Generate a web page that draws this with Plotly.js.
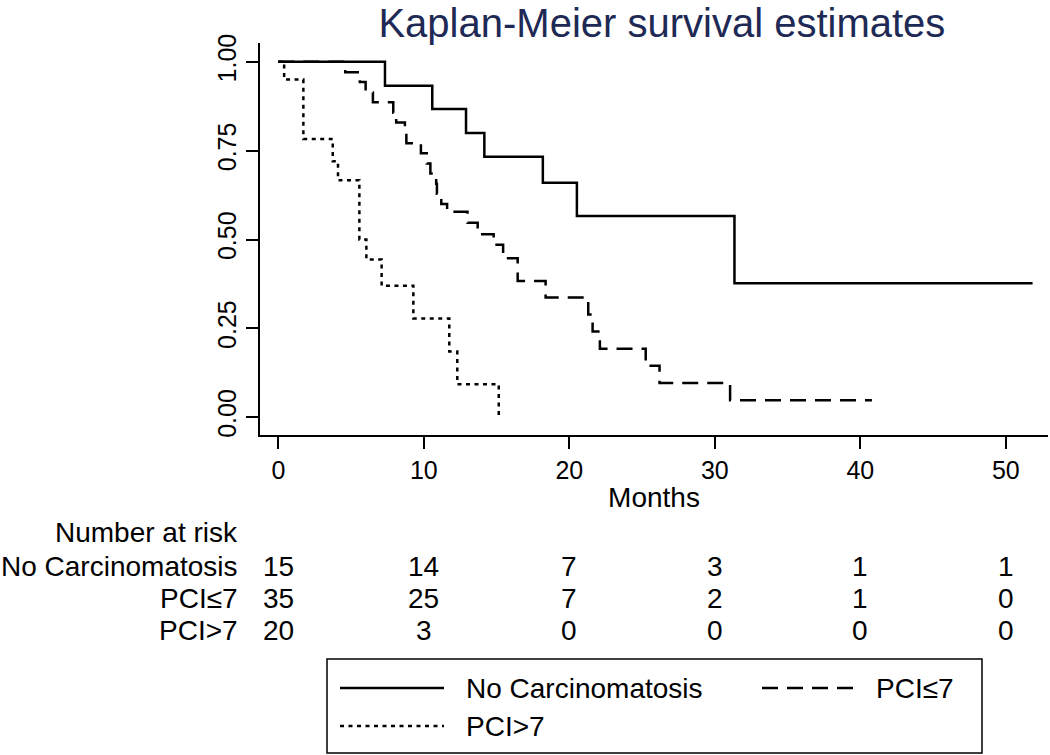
<!DOCTYPE html>
<html>
<head>
<meta charset="utf-8">
<script src="https://cdn.plot.ly/plotly-3.0.1.min.js"></script>
<style>html,body{margin:0;padding:0;background:#fff;}#chart{width:1050px;height:755px;}</style>
</head>
<body>
<div id="chart"></div>
<script>
// Kaplan-Meier step data (months, survival)
const noCarcTime = [0, 7.33, 10.58, 12.9, 14.16, 18.18, 20.52, 31.35, 51.84];
const noCarcSurv = [1, 0.933, 0.867, 0.8, 0.733, 0.66, 0.566, 0.377, 0.377];

const pciLowTime = [0, 4.6, 5.6, 6.0, 6.5, 7.9, 8.1, 8.7, 8.8, 9.8, 10.2, 10.45, 10.85, 10.9, 11.2, 11.6, 13.0, 13.7, 14.8, 15.45, 16.45, 18.37, 21.3, 21.6, 22.1, 25.25, 26.2, 31.05, 40.8];
const pciLowSurv = [1, 0.971, 0.943, 0.914, 0.886, 0.857, 0.829, 0.8, 0.771, 0.743, 0.714, 0.686, 0.657, 0.629, 0.6, 0.578, 0.547, 0.515, 0.485, 0.447, 0.383, 0.337, 0.289, 0.241, 0.193, 0.145, 0.0965, 0.048, 0.048];

const pciHighTime = [0, 0.4, 1.72, 3.74, 4.1, 5.57, 6.05, 7.1, 9.28, 11.75, 12.3, 15.15];
const pciHighSurv = [1, 0.95, 0.783, 0.72, 0.667, 0.5, 0.444, 0.37, 0.278, 0.185, 0.093, 0.0];

// Number at risk table
const riskTimes = [0, 10, 20, 30, 40, 50];
const groupNames = ["No Carcinomatosis", "PCI≤7", "PCI>7"];
const riskNoCarc = [15, 14, 7, 3, 1, 1];
const riskPciLow = [35, 25, 7, 2, 1, 0];
const riskPciHigh = [20, 3, 0, 0, 0, 0];

const xTicks = [0, 10, 20, 30, 40, 50];
const yTicks = [0, 0.25, 0.5, 0.75, 1];
const yTickText = ["0.00", "0.25", "0.50", "0.75", "1.00"];

const FONT = "Liberation Sans, Arial, Helvetica, sans-serif";

const traces = [
  {x: noCarcTime, y: noCarcSurv, name: groupNames[0], mode: "lines", line: {shape: "hv", color: "#000", width: 2.5, dash: "solid"}},
  {x: pciLowTime, y: pciLowSurv, name: groupNames[1], mode: "lines", line: {shape: "hv", color: "#000", width: 2.5, dash: "16px,9px"}},
  {x: pciHighTime, y: pciHighSurv, name: groupNames[2], mode: "lines", line: {shape: "hv", color: "#000", width: 2.5, dash: "4px,4.5px"}}
];

// plot geometry helpers (paper coords)
const L = 260, R = 1048, T = 43, B = 435;
const px2paperX = p => (p - L) / (R - L);
const px2paperY = p => (B - p) / (B - T);

const annotations = [];
annotations.push({xref: "paper", yref: "paper", x: px2paperX(240), y: px2paperY(532), xanchor: "right", yanchor: "middle", text: "Number at risk", showarrow: false, font: {family: FONT, size: 28, color: "#000"}});
const riskRows = [riskNoCarc, riskPciLow, riskPciHigh];
const rowY = [566, 598, 630];
riskRows.forEach((row, i) => {
  annotations.push({xref: "paper", yref: "paper", x: px2paperX(240), y: px2paperY(rowY[i]), xanchor: "right", yanchor: "middle", text: groupNames[i], showarrow: false, font: {family: FONT, size: 28, color: "#000"}});
  row.forEach((n, j) => {
    annotations.push({xref: "x", yref: "paper", x: riskTimes[j], y: px2paperY(rowY[i]), xanchor: "center", yanchor: "middle", text: String(n), showarrow: false, font: {family: FONT, size: 28, color: "#000"}});
  });
});

// custom legend (box, samples, labels)
const shapes = [];
shapes.push({type: "rect", xref: "paper", yref: "paper", x0: px2paperX(327), x1: px2paperX(982), y0: px2paperY(659), y1: px2paperY(753), line: {color: "#000", width: 1.5}, fillcolor: "rgba(0,0,0,0)"});
const legItems = [
  {x0: 340, x1: 444, y: 688, tx: 464, dash: "solid"},
  {x0: 762, x1: 860, y: 688, tx: 874, dash: "16px,9px"},
  {x0: 340, x1: 444, y: 726, tx: 464, dash: "4px,4.5px"}
];
legItems.forEach((it, i) => {
  shapes.push({type: "line", xref: "paper", yref: "paper", x0: px2paperX(it.x0), x1: px2paperX(it.x1), y0: px2paperY(it.y), y1: px2paperY(it.y), line: {color: "#000", width: 2.5, dash: it.dash}});
  annotations.push({xref: "paper", yref: "paper", x: px2paperX(it.tx), y: px2paperY(it.y), xanchor: "left", yanchor: "middle", text: groupNames[i], showarrow: false, font: {family: FONT, size: 28, color: "#000"}});
});

const layout = {
  width: 1050, height: 755,
  margin: {l: L, r: 1050 - R, t: T, b: 755 - B, pad: 0},
  paper_bgcolor: "#fff", plot_bgcolor: "#fff",
  showlegend: false,
  font: {family: FONT, color: "#000"},
  title: {text: "Kaplan-Meier survival estimates", font: {family: FONT, size: 40, color: "#1e2a55"}, xref: "paper", x: 0.51, xanchor: "center", yref: "container", y: 0.97, yanchor: "middle", pad: {t: 0, b: 0}},
  xaxis: {
    range: [-1.26, 52.9], showgrid: false, zeroline: false,
    showline: true, linecolor: "#000", linewidth: 2,
    ticks: "outside", ticklen: 12, tickwidth: 2, tickcolor: "#000",
    tickmode: "array", tickvals: xTicks, ticktext: xTicks.map(String),
    tickfont: {family: FONT, size: 25, color: "#000"},
    title: {text: "Months", font: {family: FONT, size: 28, color: "#000"}, standoff: 4}
  },
  yaxis: {
    range: [-0.05, 1.053], showgrid: false, zeroline: false,
    showline: true, linecolor: "#000", linewidth: 2,
    ticks: "outside", ticklen: 12, tickwidth: 2, tickcolor: "#000",
    tickmode: "array", tickvals: yTicks, ticktext: yTickText, tickangle: -90,
    tickfont: {family: FONT, size: 25, color: "#000"}
  },
  annotations: annotations,
  shapes: shapes
};

Plotly.newPlot("chart", traces, layout, {displayModeBar: false, staticPlot: true});
</script>
</body>
</html>
